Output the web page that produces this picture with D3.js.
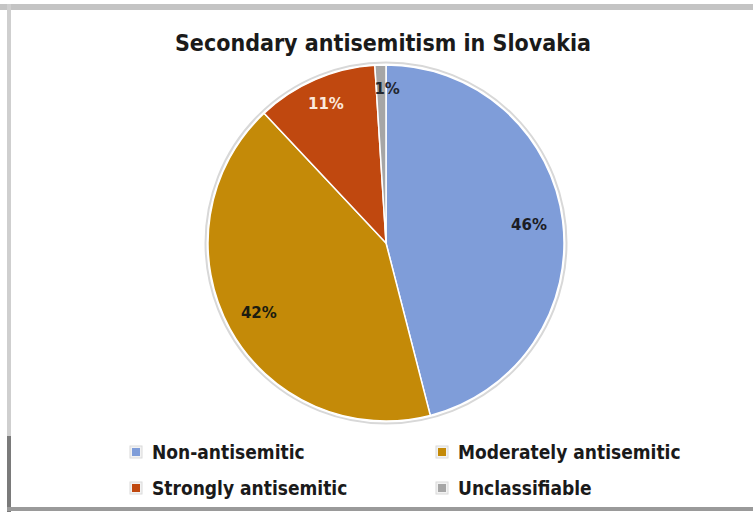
<!DOCTYPE html>
<html>
<head>
<meta charset="utf-8">
<script src="https://cdn.jsdelivr.net/npm/d3@7"></script>
<style>
  body { margin: 0; background: #fff; }
  svg { display: block; }
</style>
</head>
<body>
<div id="chart"></div>
<script>
const categories = ["Non-antisemitic", "Moderately antisemitic", "Strongly antisemitic", "Unclassifiable"];
const values = [46, 42, 11, 1];
const labels = ["46%", "42%", "11%", "1%"];
const colors = ["#7f9dd9", "#c48a08", "#c0480f", "#a6a6a6"];
const labelColors = ["#1c1c24", "#1c1c10", "#fbe9dc", "#22262e"];

const width = 753, height = 512;
const svg = d3.select("#chart").append("svg")
    .attr("width", width)
    .attr("height", height);

// frame of the screenshot
svg.append("rect").attr("x", 0).attr("y", 4).attr("width", width).attr("height", 6).attr("fill", "#c4c4c4");
svg.append("rect").attr("x", 7).attr("y", 4).attr("width", 4).attr("height", 433).attr("fill", "#cfcfcf");
svg.append("rect").attr("x", 7).attr("y", 436).attr("width", 4).attr("height", 76).attr("fill", "#7a7a7a");
svg.append("rect").attr("x", 7).attr("y", 507).attr("width", width).attr("height", 4).attr("fill", "#9a9a9a");

svg.append("text")
    .attr("x", 383)
    .attr("y", 51)
    .attr("text-anchor", "middle")
    .attr("font-family", "DejaVu Sans Condensed, DejaVu Sans")
    .attr("font-stretch", "condensed")
    .attr("font-weight", "bold")
    .style("font-size", "23px")
    .attr("fill", "#1a1a1a")
    .text("Secondary antisemitism in Slovakia");

const cx = 386, cy = 243, r = 178;

const pie = d3.pie().sort(null).value(d => d);
const arc = d3.arc().innerRadius(0).outerRadius(r);
const arcs = pie(values);

const g = svg.append("g").attr("transform", "translate(" + cx + "," + cy + ")");

// soft outline around the pie
g.append("circle").attr("r", r + 2.5).attr("fill", "none").attr("stroke", "#d8d8d8").attr("stroke-width", 2);

g.selectAll("path")
    .data(arcs)
    .enter().append("path")
    .attr("d", arc)
    .attr("fill", (d, i) => colors[i])
    .attr("stroke", "#ffffff")
    .attr("stroke-width", 1.5);

const labelPos = [0.81, 0.815, 0.85, 0.865];
const labelDx = [0, 0, 0, 6];
g.selectAll("text.lbl")
    .data(arcs)
    .enter().append("text")
    .attr("class", "lbl")
    .attr("transform", (d, i) => {
        const a = (d.startAngle + d.endAngle) / 2;
        const rr = r * labelPos[i];
        return "translate(" + (Math.sin(a) * rr + labelDx[i]) + "," + (-Math.cos(a) * rr) + ")";
    })
    .attr("dy", "0.35em")
    .attr("text-anchor", "middle")
    .attr("font-family", "DejaVu Sans")
    .attr("font-weight", "bold")
    .style("font-size", "15px")
    .attr("fill", (d, i) => labelColors[i])
    .text((d, i) => labels[i]);

// legend
const legX = d3.scaleOrdinal().domain([0, 1]).range([131, 437]);
const legY = d3.scaleOrdinal().domain([0, 1]).range([452, 488]);
const leg = svg.selectAll("g.leg")
    .data(categories)
    .enter().append("g")
    .attr("class", "leg")
    .attr("transform", (d, i) => "translate(" + legX(i % 2) + "," + legY(Math.floor(i / 2)) + ")");

leg.append("rect")
    .attr("x", -1).attr("y", -6)
    .attr("width", 12).attr("height", 12)
    .attr("fill", "#f2f2f2")
    .attr("stroke", "#dadada");
leg.append("rect")
    .attr("x", 1).attr("y", -4)
    .attr("width", 8).attr("height", 8)
    .attr("fill", (d, i) => colors[i]);

leg.append("text")
    .attr("x", 21)
    .attr("dy", "0.35em")
    .attr("font-family", "DejaVu Sans Condensed, DejaVu Sans")
    .attr("font-stretch", "condensed")
    .attr("font-weight", "bold")
    .style("font-size", "19px")
    .attr("fill", "#1a1a1a")
    .text(d => d);
</script>
</body>
</html>
